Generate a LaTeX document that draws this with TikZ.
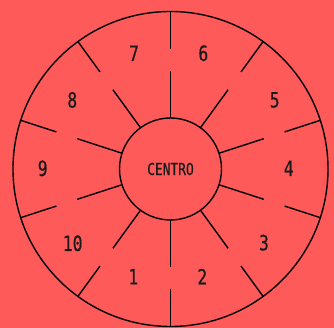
\documentclass[tikz,border=0pt]{standalone}
\usepackage{fontspec}
\usetikzlibrary{calc}
\newfontfamily\monof[FakeStretch=0.78,FakeBold=0.6]{DejaVu Sans Mono}
\definecolor{bg}{HTML}{FF5A5A}
\definecolor{ink}{HTML}{1A1A1A}
\tikzset{
  ring/.style={circle, draw=black, line width=1.4pt, inner sep=0pt},
  spoke/.style={draw=black, line width=1.4pt},
  num/.style={text=ink, font=\monof\fontsize{21}{21}\selectfont, inner sep=0pt},
  ctext/.style={text=ink, font=\monof\fontsize{16.5}{16.5}\selectfont}
}
\begin{document}
\begin{tikzpicture}[x=1pt,y=1pt]
\fill[bg] (0,0) rectangle (334,328);
\useasboundingbox (0,0) rectangle (334,328);
\coordinate (O) at (170.5,159);
\node[ring, minimum size=315pt] (outer) at (O) {};
\node[ring, minimum size=102pt, ctext] (centro) at (O) {CENTRO};
\foreach \a in {90,54,18,-18,-54,-90,-126,-162,162,126}{
  \draw[spoke] ($(O)+(\a:51)$) -- ($(O)+(\a:98)$);
  \draw[spoke] ($(O)+(\a:120)$) -- ($(O)+(\a:157.5)$);
}
\node[num] (n7) at (134,274.7) {7};
\node[num] (n6) at (203.3,274.7) {6};
\node[num] (n5) at (274.7,228) {5};
\node[num] (n4) at (288.7,159.7) {4};
\node[num] (n3) at (264,85.3) {3};
\node[num] (n2) at (202.3,51.3) {2};
\node[num] (n1) at (133.3,51.3) {1};
\node[num] (n10) at (72.7,84.7) {10};
\node[num] (n9) at (42.7,159.7) {9};
\node[num] (n8) at (72.3,228) {8};
\end{tikzpicture}
\end{document}
